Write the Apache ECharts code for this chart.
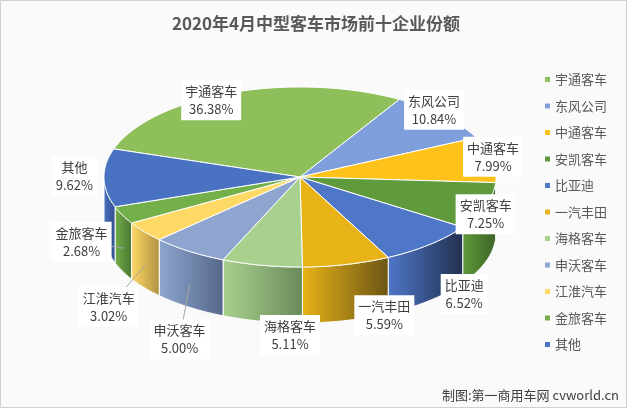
<!DOCTYPE html>
<html><head><meta charset="utf-8">
<script src="https://cdn.jsdelivr.net/npm/echarts@6/dist/echarts.min.js"></script>
<style>html,body{margin:0;padding:0;background:#fff}#c{width:627px;height:408px}</style>
</head><body><div id="c"></div>
<script>
// 2020年4月中型客车市场前十企业份额
const names = ['宇通客车', '东风公司', '中通客车', '安凯客车', '比亚迪', '一汽丰田', '海格客车', '申沃客车', '江淮汽车', '金旅客车', '其他'];
const shares = [36.38, 10.84, 7.99, 7.25, 6.52, 5.59, 5.11, 5.00, 3.02, 2.68, 9.62];
const colors = ['#8fbf5a', '#7f9fdc', '#ffc21a', '#5f9a3c', '#4f77c8', '#e8b316', '#a9d18e', '#8ea6cf', '#ffd966', '#73b04a', '#4a72c2'];
const sides = ['#6f9a42', '#4b6590', '#a07a10', '#3d6426', '#22304e', '#6b5514', '#6a8a5a', '#56688a', '#b09040', '#4a7430', '#2f4d8a'];

const total = shares.reduce((a, b) => a + b, 0);
const startDeg = -89;
const starts = [];
let acc = startDeg;
shares.forEach(v => { starts.push(acc); acc += v / total * 360; });

const CX = 300, CY = 177, RX = 196, RY = 90, DEPTH = 56, WARP = 0.3;
// perspective-ish warp: front of the pie looks bigger than the back
const warp = deg => deg - WARP * Math.sin(deg * Math.PI / 180) * 180 / Math.PI;
const pt = (deg, f) => {
  const r = warp(deg) * Math.PI / 180;
  return [CX + RX * (f || 1) * Math.sin(r), CY - RY * (f || 1) * Math.cos(r)];
};
const isFront = deg => Math.cos(warp(deg) * Math.PI / 180) < -0.001;
// label nudges [dx, dy, leader line]
const labelPos = [[-27, 18, 0], [-22, 1, 0], [-18, 0, 0], [-19, -22, 0], [21, 15, 0], [33, 14, 0], [32, 33, 0], [2, 53, 1], [-20, 42, 1], [-23, -5, 1], [-10, -1, 0]];

const chart = echarts.init(document.getElementById('c'));
chart.setOption({
  backgroundColor: '#fafafa',
  title: {
    text: '2020年4月中型客车市场前十企业份额', left: 311, top: 10, textAlign: 'center',
    textStyle: { color: '#595959', fontSize: 17, fontWeight: 'bold', fontFamily: 'Noto Sans CJK SC' }
  },
  color: colors,
  legend: {
    orient: 'vertical', left: 540, top: 68, itemGap: 13.5, itemWidth: 5, itemHeight: 5, icon: 'rect',
    data: names,
    textStyle: { color: '#595959', fontSize: 13, fontFamily: 'Noto Sans CJK SC' }
  },
  graphic: [
    { type: 'rect', shape: { x: 0.5, y: 0.5, width: 626, height: 407 }, style: { fill: 'none', stroke: '#d0d0d0' } },
    { type: 'text', right: 8, bottom: 6, style: { text: '制图:第一商用车网 cvworld.cn', fill: '#404040', fontSize: 13, fontFamily: 'Noto Sans CJK SC' } }
  ],
  series: [{
    // invisible pie that only feeds the legend
    type: 'pie', radius: [0, 0], silent: true, label: { show: false },
    data: shares.map((v, i) => ({ name: names[i], value: v }))
  }, {
    type: 'custom', coordinateSystem: 'none',
    data: shares.map((v, i) => ({ name: names[i], value: v, itemStyle: { color: colors[i] } })),
    renderItem: (params, api) => {
      const i = params.dataIndex;
      const a0 = starts[i], a1 = a0 + api.value(0) / total * 360;
      const children = [];
      const top = [[CX, CY]];
      const up = [], down = [];
      const step = (a1 - a0) / 60;
      for (let a = a0; a <= a1 + 0.01; a += step) {
        const p = pt(a);
        top.push(p);
        if (isFront(a)) { up.push(p); down.unshift([p[0], p[1] + DEPTH]); }
      }
      if (up.length > 1) {
        children.push({ type: 'polygon', z2: 1, shape: { points: up.concat(down) },
          style: { fill: new echarts.graphic.LinearGradient(0, 0, 1, 0, [{ offset: 0, color: colors[i] }, { offset: 1, color: sides[i] }]), stroke: '#fff', lineWidth: 1 } });
      }
      children.push({ type: 'polygon', z2: 10, shape: { points: top }, style: { fill: colors[i], stroke: '#fff', lineWidth: 1 } });
      const mid = (a0 + a1) / 2;
      const [dx, dy, line] = labelPos[i];
      const base = pt(mid, 1.1);
      const front = isFront(mid);
      const lp = [base[0] + dx, base[1] + dy + (front ? DEPTH * 0.5 : 0)];
      if (line) {
        const ep = pt(mid, 0.99);
        ep[1] += DEPTH * 0.6;
        children.push({ type: 'line', z2: 20, shape: { x1: ep[0], y1: ep[1], x2: lp[0], y2: lp[1] }, style: { stroke: '#a6a6a6', lineWidth: 1 } });
      }
      children.push({ type: 'text', z2: 30, x: lp[0], y: lp[1], style: {
        text: names[i] + '\n' + api.value(0).toFixed(2) + '%', align: 'center', verticalAlign: 'middle',
        fill: '#404040', fontSize: 13, lineHeight: 18, fontFamily: 'Noto Sans CJK SC',
        backgroundColor: '#fff', padding: [2, 4] } });
      return { type: 'group', children };
    }
  }]
});
</script></body></html>
